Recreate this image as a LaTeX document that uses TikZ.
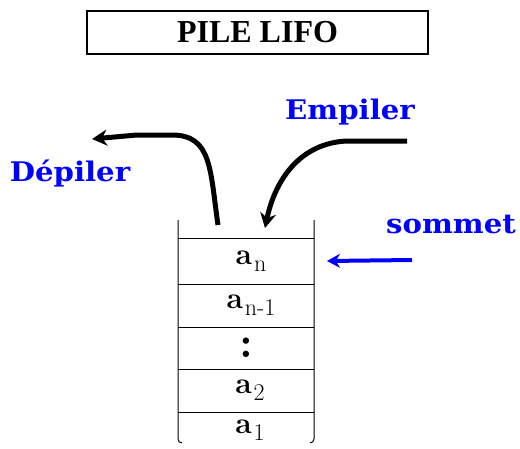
\documentclass[tikz,border=0pt]{standalone}
\usepackage{fontspec}
\setmainfont{Liberation Serif}
\newfontfamily\slabfont{DejaVu Serif}[FakeStretch=1.08]
\newfontfamily\lmfont{Latin Modern Roman}
\usetikzlibrary{positioning,arrows.meta}
\newcommand{\elt}[1]{{\lmfont\fontsize{30}{30}\selectfont\bfseries a}\hspace{2pt}\raisebox{-7pt}{\lmfont\fontsize{24}{24}\selectfont #1}}

\begin{document}
\begin{tikzpicture}[x=1pt,y=-1pt,>=Stealth,
  cell/.style={inner sep=0pt,outer sep=0pt,minimum width=136pt},
  blue label/.style={text=blue,font=\slabfont\bfseries\fontsize{27}{27}\selectfont,anchor=base},
  move/.style={line width=5pt,arrows={-Stealth[length=15pt,width=16pt]}}]
  \useasboundingbox (0,0) rectangle (520,448);
  % title
  \node[draw,line width=1.5pt,minimum width=341pt,minimum height=43pt,
    font=\bfseries\fontsize{32}{32}\selectfont] (title) at (257.5,32.5) {PILE LIFO};
  % stack cells
  \node[cell,minimum height=46pt] (an) at (246,261) {\hspace{10pt}\elt{n}};
  \node[cell,minimum height=43pt,below=0pt of an] (an1) {\hspace{10pt}\elt{n-1}};
  \node[cell,minimum height=42pt,below=0pt of an1] (dots) {\fontsize{44}{44}\selectfont\lmfont\bfseries :};
  \node[cell,minimum height=43pt,below=0pt of dots] (a2) {\hspace{8pt}\elt{2}};
  \node[cell,minimum height=36pt,below=0pt of a2] (a1) {\hspace{8pt}\elt{1}};
  \foreach \c in {an,an1,dots,a2,a1}
    \draw[line width=1pt] (\c.north west) -- (\c.north east);
  \draw[line width=1pt,rounded corners=4pt] ([yshift=18pt]an.north west) -- ([yshift=5pt]a1.south west) -- ([xshift=4pt,yshift=5pt]a1.south west);
  \draw[line width=1pt,rounded corners=4pt] ([yshift=18pt]an.north east) -- ([yshift=5pt]a1.south east) -- ([xshift=-4pt,yshift=5pt]a1.south east);
  % labels
  \node[blue label] (push) at (350,119) {Empiler};
  \node[blue label] (pop) at (70,181) {Dépiler};
  \node[blue label] (top) at (451,233) {sommet};
  % arrows
  \coordinate (pop out) at (218,225);
  \coordinate (pop end) at (92,139);
  \coordinate (push in) at (407,141);
  \coordinate (push end) at (265,228);
  \draw[move] (pop out) .. controls (210,170) and (212,135) .. (172,135) -- (137,135) -- (pop end);
  \draw[move] (push in) -- (347,141) .. controls (300,143) and (275,180) .. (push end);
  \draw[blue,line width=4pt,arrows={-Stealth[length=13pt,width=14pt]}] (412,260) -- ([xshift=13pt]an.east);
\end{tikzpicture}
\end{document}
